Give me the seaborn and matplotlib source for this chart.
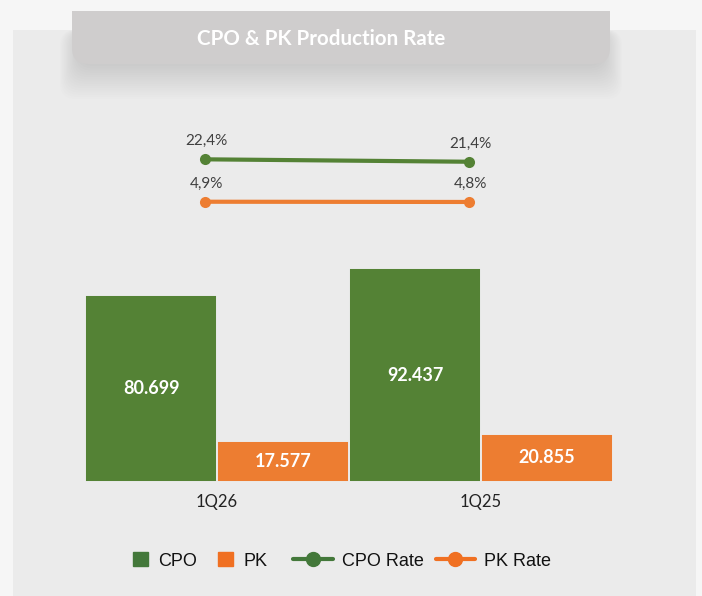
import matplotlib
matplotlib.use("Agg")
import matplotlib.pyplot as plt
import seaborn as sns
import pandas as pd
from matplotlib.patches import FancyBboxPatch, Rectangle, Patch
from matplotlib.lines import Line2D

# data
quarters = ["1Q26", "1Q25"]
series = ["CPO", "PK"]
cpo = [80699, 92437]
pk = [17577, 20855]
cpo_rate = [22.4, 21.4]
pk_rate = [4.9, 4.8]

GREEN = "#548235"
ORANGE = "#ED7D31"
LEG_GREEN = "#43783A"
LEG_ORANGE = "#F07022"
PANEL = "#EBEBEB"

W, H = 702, 596


def fx(px):
    return px / W


def fy(py):
    return 1 - py / H


sns.set_theme(style="white")
plt.rcParams["font.family"] = ["Lato", "DejaVu Sans"]

fig = plt.figure(figsize=(W / 100, H / 100), dpi=100, facecolor="#F6F6F6")

# background layer in pixel units
bg = fig.add_axes([0, 0, 1, 1], zorder=0)
bg.set_xlim(0, W)
bg.set_ylim(H, 0)
bg.axis("off")
bg.add_patch(Rectangle((13, 30), 683, H - 30, facecolor=PANEL, edgecolor="none"))

# soft shadow under the title box
for i in range(16):
    bg.add_patch(FancyBboxPatch((78 - i * 1.2, 30), 526 + i * 2.4, 36 + i * 2.2,
                                boxstyle="round,pad=0,rounding_size=16",
                                facecolor="#9a9a9a", edgecolor="none", alpha=0.022))

bg.add_patch(FancyBboxPatch((72, 11), 538, 53, boxstyle="round,pad=0,rounding_size=16",
                            facecolor="#CFCDCD", edgecolor="none"))
bg.add_patch(Rectangle((72, 11), 538, 25, facecolor="#CFCDCD", edgecolor="none"))
bg.text(321, 39, "CPO & PK Production Rate", ha="center", va="center",
        color="white", fontsize=14.8, fontweight="bold")

# bars
df = pd.DataFrame({
    "quarter": quarters * 2,
    "series": [series[0]] * 2 + [series[1]] * 2,
    "value": cpo + pk,
})
ax = fig.add_axes([fx(85), fy(482), (613 - 85) / W, (482 - 112) / H], zorder=1)
ax.set_facecolor("none")
sns.barplot(data=df, x="quarter", y="value", hue="series", order=quarters,
            hue_order=series, palette=[GREEN, ORANGE], width=1.0, saturation=1,
            edgecolor=PANEL, linewidth=1.4, legend=False, ax=ax)
ax.set_xlim(-0.5, 1.5)
ax.set_ylim(0, 160000)
for c in ax.containers:
    ax.bar_label(c, labels=[f"{v:,.0f}".replace(",", ".") for v in c.datavalues],
                 label_type="center", color="white", fontsize=13, fontweight="bold")
ax.set_yticks([])
ax.set_xlabel("")
ax.set_ylabel("")
ax.tick_params(axis="x", length=0, pad=8.5, labelsize=12, labelcolor="#222222")
sns.despine(ax=ax, left=True, bottom=True)

# rate lines
lax = fig.add_axes([fx(85), fy(230), (613 - 85) / W, 120 / H], zorder=2)
lax.set_facecolor("none")
sns.lineplot(x=[0, 1], y=cpo_rate, color=GREEN, lw=3, marker="o", markersize=8,
             markeredgewidth=0, ax=lax)
sns.lineplot(x=[0, 1], y=pk_rate, color=ORANGE, lw=3, marker="o", markersize=8,
             markeredgewidth=0, ax=lax)
lax.set_xlim(-0.5 + 0.0436, 1.5 + 0.0436)
lax.set_ylim(-6.77, 42.76)
lax.axis("off")
for vals in (cpo_rate, pk_rate):
    for x, v in enumerate(vals):
        lax.annotate(f"{v:.1f}%".replace(".", ","), (x, v), xytext=(1, 13),
                     textcoords="offset points", ha="center", va="center",
                     fontsize=11, color="#404040")

# legends
prop = {"family": "Liberation Sans", "size": 13}
fig.legend(handles=[Patch(color=LEG_GREEN, label="CPO"), Patch(color=LEG_ORANGE, label="PK")],
           loc="center left", bbox_to_anchor=(fx(133), fy(561)), ncol=2, frameon=False,
           prop=prop, handlelength=0.83, handleheight=0.83, handletextpad=0.55,
           columnspacing=1.2, borderpad=0, borderaxespad=0, labelcolor="#111111")
fig.legend(handles=[Line2D([], [], color=LEG_GREEN, lw=3, marker="o", markersize=10, label="CPO Rate"),
                    Line2D([], [], color=LEG_ORANGE, lw=3, marker="o", markersize=10, label="PK Rate")],
           loc="center left", bbox_to_anchor=(fx(293), fy(561)), ncol=2, frameon=False,
           prop=prop, handlelength=2.2, handletextpad=0.5, columnspacing=0.66,
           borderpad=0, borderaxespad=0, labelcolor="#111111")

fig.savefig("out.png", dpi=100, facecolor=fig.get_facecolor())
